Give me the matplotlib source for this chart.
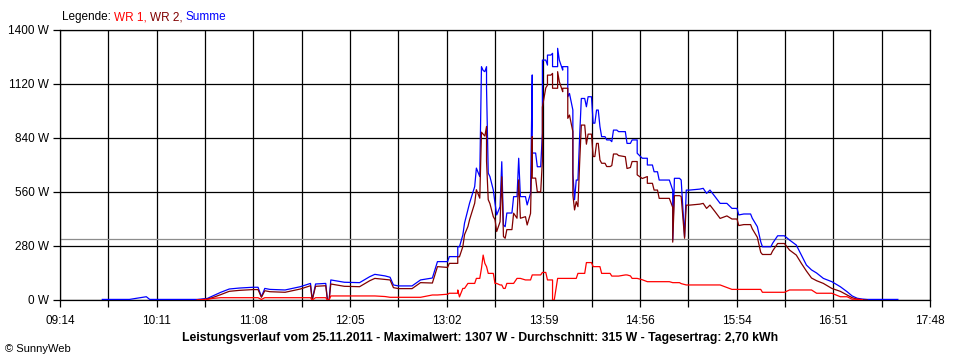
import matplotlib
matplotlib.use("Agg")
import matplotlib.pyplot as plt
import numpy as np

nan = float("nan")  # keine Messung

times = [
    "09:39", "09:55", "10:05", "10:07", "10:35", "10:41", "10:44", "10:49", "10:54", "11:00",
    "11:08", "11:11", "11:13", "11:15", "11:18", "11:27", "11:36", "11:42", "11:43", "11:45",
    "11:51", "11:52", "11:53", "11:54", "12:02", "12:11", "12:17", "12:20", "12:26", "12:29",
    "12:31", "12:34", "12:42", "12:47", "12:54", "12:57", "13:03", "13:04", "13:09", "13:09",
    "13:10", "13:12", "13:13", "13:15", "13:16", "13:19", "13:20", "13:22", "13:23", "13:24",
    "13:25", "13:26", "13:26", "13:27", "13:28", "13:30", "13:31", "13:32", "13:34", "13:35",
    "13:36", "13:37", "13:38", "13:41", "13:42", "13:44", "13:45", "13:46", "13:49", "13:50",
    "13:52", "13:53", "13:53", "13:55", "13:56", "13:58", "13:59", "13:59", "14:01", "14:02",
    "14:02", "14:04", "14:05", "14:05", "14:06", "14:08", "14:08", "14:09", "14:11", "14:11",
    "14:14", "14:14", "14:15", "14:17", "14:17", "14:18", "14:19", "14:20", "14:21", "14:22",
    "14:24", "14:25", "14:26", "14:28", "14:29", "14:30", "14:31", "14:32", "14:33", "14:34",
    "14:36", "14:37", "14:39", "14:40", "14:41", "14:43", "14:44", "14:48", "14:49", "14:51",
    "14:52", "14:55", "14:55", "14:58", "15:01", "15:01", "15:04", "15:05", "15:07", "15:08",
    "15:14", "15:16", "15:16", "15:17", "15:20", "15:21", "15:23", "15:24", "15:26", "15:32",
    "15:34", "15:36", "15:38", "15:41", "15:44", "15:48", "15:51", "15:54", "15:55", "15:58",
    "16:02", "16:03", "16:06", "16:08", "16:09", "16:14", "16:15", "16:18", "16:22", "16:25",
    "16:29", "16:32", "16:35", "16:38", "16:41", "16:45", "16:50", "16:55", "16:59", "17:02",
    "17:05", "17:08", "17:11", "17:29",
]

summe = [
    3, 3, 17, 3, 3, 8, 20, 40, 57, 62,
    66, 66, 17, 60, 55, 52, 69, 86, 0, 83,
    86, 0, 0, 104, 92, 90, 121, 133, 125, 118,
    78, 73, 73, 104, 114, 199, 199, 225, 225, 276,
    276, 337, 399, 467, 503, 588, 684, 640, 1210, 1190,
    1184, 1210, 1099, 658, 640, 570, 503, 441, 484, 717,
    389, 380, 451, 451, 536, 536, 735, 536, 536, 493,
    553, 1167, 762, 762, 691, 691, 866, 1244, 1244, 1218,
    1270, 1270, 1279, 1210, 1210, 1210, 1305, 1244, 1192, 1210,
    1210, 1054, 1071, 985, 658, 520, 622, 622, 847, 1045,
    1045, 1002, 1054, 1054, 917, 917, 985, 985, 899, 847,
    847, 830, 830, 821, 881, 881, 873, 873, 812, 812,
    830, 830, 761, 735, 735, 700, 700, 665, 665, 622,
    622, 570, 311, 631, 631, 622, 328, 570, 570, 575,
    579, 553, 570, 536, 501, 501, 475, 475, 441, 446,
    446, 424, 380, 302, 276, 276, 294, 333, 333, 311,
    285, 233, 181, 156, 140, 112, 95, 69, 43, 21,
    9, 5, 3, 3,
]

wr1 = [
    nan, nan, nan, nan, 0, 3, 8, 12, 12, 12,
    12, 12, 3, 12, 12, 12, 12, 12, 0, 12,
    12, 0, 0, 21, 21, 21, 21, 21, 18, 14,
    14, 14, 14, 14, 26, 26, 30, 35, 35, 52,
    16, 60, 60, 86, 86, 86, 112, 112, 164, 233,
    190, 173, 173, 138, 138, 138, 86, 86, 78, 78,
    60, 60, 86, 86, 86, 112, 112, 112, 104, 104,
    104, 130, 130, 130, 130, 130, 143, 143, 143, 104,
    104, 104, 104, 0, 0, 112, 112, 112, 112, 112,
    112, 112, 112, 112, 112, 112, 112, 138, 138, 138,
    138, 194, 194, 194, 173, 173, 173, 173, 173, 138,
    138, 138, 138, 124, 124, 124, 124, 130, 130, 125,
    112, 112, 112, 105, 95, 95, 95, 95, 95, 95,
    95, 90, 90, 90, 90, 85, 80, 78, 78, 78,
    78, 78, 78, 78, 78, 65, 55, 55, 55, 55,
    55, 55, 55, 55, 40, 40, 40, 40, 40, 52,
    52, 52, 52, 52, 35, 35, 35, 17, 17, 4,
    4, 2, nan, nan,
]

wr2 = [
    nan, nan, nan, nan, 0, 5, 12, 28, 45, 50,
    54, 54, 14, 48, 43, 40, 57, 74, 0, 71,
    74, 0, 0, 83, 71, 69, 100, 112, 107, 104,
    64, 59, 59, 90, 88, 173, 169, 190, 190, 224,
    224, 277, 339, 381, 417, 502, 572, 528, 870, 860,
    850, 900, 720, 520, 500, 432, 417, 355, 406, 639,
    329, 320, 365, 365, 450, 424, 623, 424, 432, 389,
    449, 847, 632, 632, 561, 561, 723, 1000, 1100, 1114,
    1166, 1166, 1175, 1098, 1098, 1098, 1184, 1132, 1080, 1098,
    1098, 942, 959, 873, 546, 467, 510, 484, 709, 907,
    907, 808, 860, 860, 744, 744, 812, 812, 726, 709,
    709, 692, 692, 697, 757, 757, 749, 743, 682, 687,
    718, 718, 649, 630, 640, 605, 605, 570, 570, 527,
    527, 480, 300, 541, 541, 537, 320, 492, 492, 497,
    501, 475, 492, 458, 423, 436, 420, 420, 386, 391,
    391, 369, 325, 247, 236, 236, 254, 293, 293, 259,
    233, 190, 150, 114, 100, 86, 60, 45, 26, 12,
    4, 1, 0, nan,
]

durchschnitt = 315
y_ticks = [0, 280, 560, 840, 1120, 1400]
x_labels = ["09:14", "10:11", "11:08", "12:05", "13:02",
            "13:59", "14:56", "15:54", "16:51", "17:48"]


def to_min(s):
    h, m = s.split(":")
    return int(h) * 60 + int(m)


t = np.array([to_min(s) for s in times])
x0, x1 = to_min(x_labels[0]), to_min(x_labels[-1])
grid_x = np.linspace(x0, x1, 2 * len(x_labels) - 1)
tick_text = []
for i in range(len(grid_x)):
    tick_text.append(x_labels[i // 2] if i % 2 == 0 else "")

plt.rcParams["font.family"] = ["Liberation Sans", "DejaVu Sans"]

fig = plt.figure(figsize=(9.6, 3.6), dpi=100)
ax = fig.add_axes([60 / 960, 60 / 360, 870 / 960, 270 / 360])

for gx in grid_x:
    ax.axvline(gx, color="black", lw=0.9, zorder=1)
for gy in y_ticks:
    ax.axhline(gy, color="black", lw=0.9, zorder=1)
ax.axhline(durchschnitt, color="#8c8c8c", lw=0.9, zorder=1)

ax.plot(t, summe, color="#0000ff", lw=0.9, zorder=3)
ax.plot(t, wr2, color="#800000", lw=0.9, zorder=4)
ax.plot(t, wr1, color="#ff0000", lw=0.9, zorder=5)

ax.set_xlim(x0, x1)
ax.set_ylim(0, 1400)
ax.set_xticks(grid_x)
ax.set_xticklabels(tick_text)
ax.set_yticks(y_ticks)
ax.set_yticklabels(["%d W" % v for v in y_ticks])
ax.tick_params(axis="both", length=5, width=0.9, color="black", labelsize=8.5, pad=3)
ax.tick_params(axis="x", pad=6)
for sp in ax.spines.values():
    sp.set_color("black")
    sp.set_linewidth(0.9)

# Legende oben links
legend_parts = [("Legende: ", "black"), ("WR 1, ", "#ff0000"),
                ("WR 2, ", "#800000"), ("Summe", "#0000ff")]
fig.canvas.draw()
xpos = 62
for txt, col in legend_parts:
    tx = fig.text(xpos / 960, 1 - 17 / 360, txt, color=col, fontsize=8.5, va="center", ha="left")
    bb = tx.get_window_extent(fig.canvas.get_renderer())
    xpos += bb.width

fig.text(0.5, 1 - 338 / 360,
         "Leistungsverlauf vom 25.11.2011 - Maximalwert: 1307 W - Durchschnitt: 315 W - Tagesertrag: 2,70 kWh",
         ha="center", va="center", fontsize=8.8, fontweight="bold")
fig.text(5 / 960, 1 - 349 / 360, "\u00a9 SunnyWeb", ha="left", va="center", fontsize=8)

fig.savefig("out.png", dpi=100)
